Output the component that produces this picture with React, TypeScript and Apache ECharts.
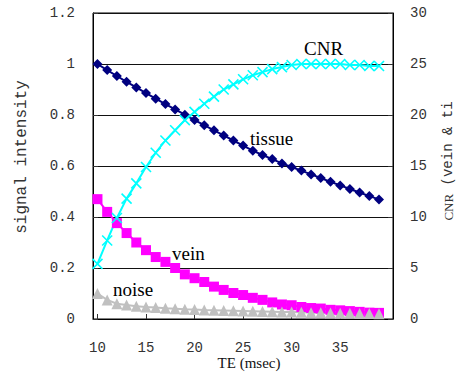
import React, { useEffect, useRef } from "react";
import * as echarts from "echarts";

const te = [10, 11, 12, 13, 14, 15, 16, 17, 18, 19, 20, 21, 22, 23, 24, 25, 26, 27, 28, 29, 30, 31, 32, 33, 34, 35, 36, 37, 38, 39];
const tissue = [1.0, 0.976, 0.953, 0.93, 0.908, 0.886, 0.864, 0.843, 0.822, 0.801, 0.78, 0.76, 0.74, 0.72, 0.7, 0.68, 0.66, 0.643, 0.627, 0.61, 0.596, 0.582, 0.567, 0.553, 0.538, 0.524, 0.51, 0.496, 0.482, 0.469];
const vein = [0.47, 0.42, 0.376, 0.337, 0.3, 0.27, 0.243, 0.224, 0.2, 0.175, 0.16, 0.145, 0.127, 0.114, 0.102, 0.094, 0.083, 0.075, 0.065, 0.057, 0.054, 0.047, 0.043, 0.041, 0.036, 0.034, 0.031, 0.028, 0.025, 0.024];
const noise = [0.1, 0.075, 0.06, 0.055, 0.05, 0.047, 0.045, 0.042, 0.04, 0.038, 0.037, 0.035, 0.034, 0.033, 0.032, 0.031, 0.03, 0.029, 0.028, 0.027, 0.027, 0.026, 0.025, 0.025, 0.024, 0.023, 0.023, 0.022, 0.022, 0.021];
const cnr = [5.4, 7.7, 9.9, 11.8, 13.3, 14.9, 16.3, 17.5, 18.5, 19.5, 20.3, 21.1, 21.8, 22.5, 23.0, 23.5, 23.9, 24.2, 24.5, 24.7, 24.9, 25.0, 25.0, 25.0, 25.0, 25.0, 24.9, 24.9, 24.8, 24.8];
const xTicks = [10, 15, 20, 25, 30, 35];

const MONO = "'Liberation Mono', 'DejaVu Sans Mono', monospace";
const SERIF = "'Liberation Serif', 'DejaVu Serif', serif";
const X_SYMBOL = "path://M0,0 L10,10 M10,0 L0,10";

const pairs = (ys: number[]) => te.map((x, i) => [x, ys[i]]);

export default function App() {
  const ref = useRef<HTMLDivElement>(null);
  useEffect(() => {
    if (!ref.current) return;
    const chart = echarts.init(ref.current, null, { renderer: "svg" });
    chart.setOption({
      animation: false,
      backgroundColor: "#ffffff",
      grid: {
        left: 93,
        right: 70,
        top: 13,
        bottom: 55,
        show: true,
        borderColor: "#000",
        borderWidth: 1,
        backgroundColor: "transparent",
      },
      xAxis: {
        type: "value",
        min: 9.54,
        max: 40.44,
        axisLine: { show: true, lineStyle: { color: "#000", width: 1 } },
        axisTick: { show: true, inside: true, length: 5, customValues: xTicks, lineStyle: { color: "#333" } },
        axisLabel: {
          customValues: xTicks,
          margin: 22,
          fontFamily: MONO,
          fontSize: 14,
          color: "#333",
        },
        splitLine: { show: false },
      },
      yAxis: [
        {
          type: "value",
          min: 0,
          max: 1.2,
          interval: 0.2,
          axisLine: { show: true, lineStyle: { color: "#000" } },
          axisTick: { show: true, inside: true, length: 5, lineStyle: { color: "#333" } },
          axisLabel: {
            margin: 18,
            fontFamily: MONO,
            fontSize: 14,
            color: "#333",
            formatter: (v: number) => String(Math.round(v * 10) / 10),
          },
          splitLine: { show: true, lineStyle: { color: "#111", width: 1 } },
        },
        {
          type: "value",
          min: 0,
          max: 30,
          interval: 5,
          position: "right",
          axisLine: { show: true, lineStyle: { color: "#000" } },
          axisTick: { show: true, inside: true, length: 5, lineStyle: { color: "#333" } },
          axisLabel: { margin: 17, fontFamily: MONO, fontSize: 14, color: "#333" },
          splitLine: { show: false },
        },
      ],
      series: [
        {
          name: "tissue",
          type: "line",
          yAxisIndex: 0,
          data: pairs(tissue),
          symbol: "diamond",
          symbolSize: 10,
          lineStyle: { color: "#000080", width: 2 },
          itemStyle: { color: "#000080" },
        },
        {
          name: "vein",
          type: "line",
          yAxisIndex: 0,
          data: pairs(vein),
          symbol: "rect",
          symbolSize: 10,
          lineStyle: { color: "#ff00ff", width: 2 },
          itemStyle: { color: "#ff00ff" },
        },
        {
          name: "noise",
          type: "line",
          yAxisIndex: 0,
          data: pairs(noise),
          symbol: "triangle",
          symbolSize: 11,
          lineStyle: { color: "#c0c0c0", width: 2 },
          itemStyle: { color: "#c0c0c0" },
        },
        {
          name: "CNR",
          type: "line",
          yAxisIndex: 1,
          data: pairs(cnr),
          symbol: X_SYMBOL,
          symbolSize: 10,
          lineStyle: { color: "#00ffff", width: 2 },
          itemStyle: { color: "#00ffff", borderColor: "#00ffff", borderWidth: 1.6 },
        },
      ],
      graphic: [
        {
          type: "text",
          x: 22,
          y: 157,
          rotation: Math.PI / 2,
          style: {
            text: "signal intensity",
            font: `16px ${MONO}`,
            fill: "#333",
            textAlign: "center",
            textVerticalAlign: "middle",
          },
        },
        {
          type: "text",
          x: 448,
          y: 161,
          rotation: Math.PI / 2,
          style: {
            text: "{a|CNR}{b| (vein & ti}",
            rich: {
              a: { fontFamily: SERIF, fontSize: 13, fill: "#333" },
              b: { fontFamily: MONO, fontSize: 14, fill: "#333" },
            },
            textAlign: "center",
            textVerticalAlign: "middle",
          },
        },
        {
          type: "text",
          x: 249,
          y: 363,
          style: {
            text: "TE (msec)",
            font: `15px ${SERIF}`,
            fill: "#111",
            textAlign: "center",
            textVerticalAlign: "middle",
          },
        },
        { type: "text", x: 304, y: 48, style: { text: "CNR", font: `19px ${SERIF}`, fill: "#000", textAlign: "left", textVerticalAlign: "middle" } },
        { type: "text", x: 250, y: 138, style: { text: "tissue", font: `19px ${SERIF}`, fill: "#000", textAlign: "left", textVerticalAlign: "middle" } },
        { type: "text", x: 172, y: 253, style: { text: "vein", font: `19px ${SERIF}`, fill: "#000", textAlign: "left", textVerticalAlign: "middle" } },
        { type: "text", x: 113, y: 289, style: { text: "noise", font: `19px ${SERIF}`, fill: "#000", textAlign: "left", textVerticalAlign: "middle" } },
      ],
    });
    return () => chart.dispose();
  }, []);
  return <div ref={ref} style={{ position: "absolute", left: 0, top: 0, width: 463, height: 374 }} />;
}
